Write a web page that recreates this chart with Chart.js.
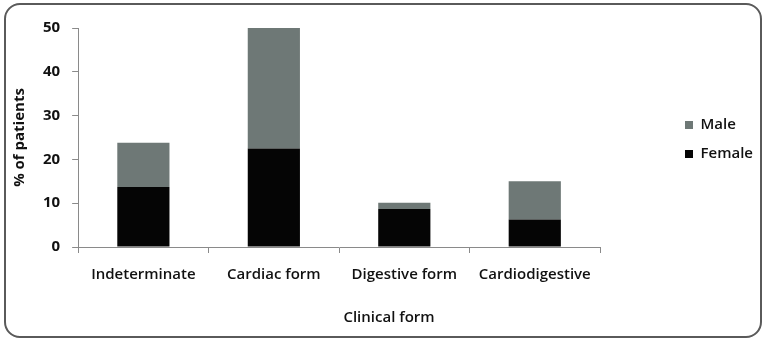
<!DOCTYPE html>
<html>
<head>
<meta charset="utf-8">
<script src="https://cdn.jsdelivr.net/npm/chart.js@4/dist/chart.umd.min.js"></script>
<style>
  html, body { margin: 0; padding: 0; background: #fff; }
  #wrap { position: relative; width: 767px; height: 339px; }
  #frame {
    position: absolute; left: 4px; top: 3px; width: 754px; height: 331px;
    border: 2px solid #5a5a5a; border-radius: 16px; pointer-events: none;
  }
  canvas { position: absolute; left: 0; top: 0; }
</style>
</head>
<body>
<div id="wrap">
  <canvas id="clinical-form-chart" width="767" height="339"></canvas>
  <div id="frame"></div>
</div>
<script>
const categories = ["Indeterminate", "Cardiac form", "Digestive form", "Cardiodigestive"];
const female_values = [13.7, 22.5, 8.7, 6.3];
const male_values = [10.1, 27.5, 1.4, 8.7];
const y_ticks = [0, 10, 20, 30, 40, 50];

const fontFamily = "'Open Sans', Lato, sans-serif";

// legend box takes the space right of the plot; items sit further right and up
const legendPlace = {
  id: "legendPlace",
  beforeLayout(chart) {
    const l = chart.legend;
    if (l && !l._patched) {
      const fit = l.fit.bind(l);
      l.fit = function () {
        fit();
        this.width = 167;
      };
      l._patched = true;
    }
  },
  afterLayout(chart) {
    const l = chart.legend;
    l.left += 71;
    l.top -= 44;
    l.bottom -= 44;
  },
};

const data_clinical = {
  labels: categories,
  datasets: [
    {
      label: "Female",
      data: female_values,
      backgroundColor: "#050505",
      borderWidth: 0,
    },
    {
      label: "Male",
      data: male_values,
      backgroundColor: "#6e7876",
      borderWidth: 0,
    },
  ],
};

const config_clinical = {
  type: "bar",
  data: data_clinical,
  plugins: [legendPlace],
  options: {
    responsive: false,
    animation: false,
    layout: { padding: { left: 11, right: 0, top: 28, bottom: 0 } },
    datasets: {
      bar: { categoryPercentage: 0.8, barPercentage: 0.5 },
    },
    plugins: {
      legend: {
        position: "right",
        reverse: true,
        labels: {
          boxWidth: 8,
          boxHeight: 8,
          padding: 14,
          color: "#111",
          font: { family: fontFamily, size: 15, weight: "600" },
        },
      },
      title: {
        display: true,
        position: "bottom",
        text: "Clinical form",
        color: "#111",
        padding: { top: 12, bottom: 12 },
        font: { family: fontFamily, size: 15, weight: "600" },
      },
      tooltip: { enabled: false },
    },
    scales: {
      x: {
        stacked: true,
        border: { color: "#8a8a8a", width: 1 },
        grid: {
          offset: true,
          drawOnChartArea: false,
          tickLength: 6,
          color: "#8a8a8a",
        },
        ticks: {
          color: "#111",
          padding: 13,
          font: { family: fontFamily, size: 15, weight: "600" },
        },
      },
      y: {
        stacked: true,
        min: 0,
        max: 50,
        afterBuildTicks(axis) {
          axis.ticks = y_ticks.map((v) => ({ value: v }));
        },
        border: { color: "#8a8a8a", width: 1 },
        grid: {
          drawOnChartArea: false,
          tickLength: 6,
          color: "#8a8a8a",
        },
        ticks: {
          color: "#111",
          padding: 12,
          font: { family: fontFamily, size: 15, weight: "bold" },
        },
        title: {
          display: true,
          text: "% of patients",
          color: "#111",
          padding: { top: 0, bottom: 2 },
          font: { family: fontFamily, size: 15, weight: "bold" },
        },
      },
    },
  },
};

var ctx_clinical = document.getElementById("clinical-form-chart").getContext("2d");
var clinicalChart = new Chart(ctx_clinical, config_clinical);
</script>
</body>
</html>
